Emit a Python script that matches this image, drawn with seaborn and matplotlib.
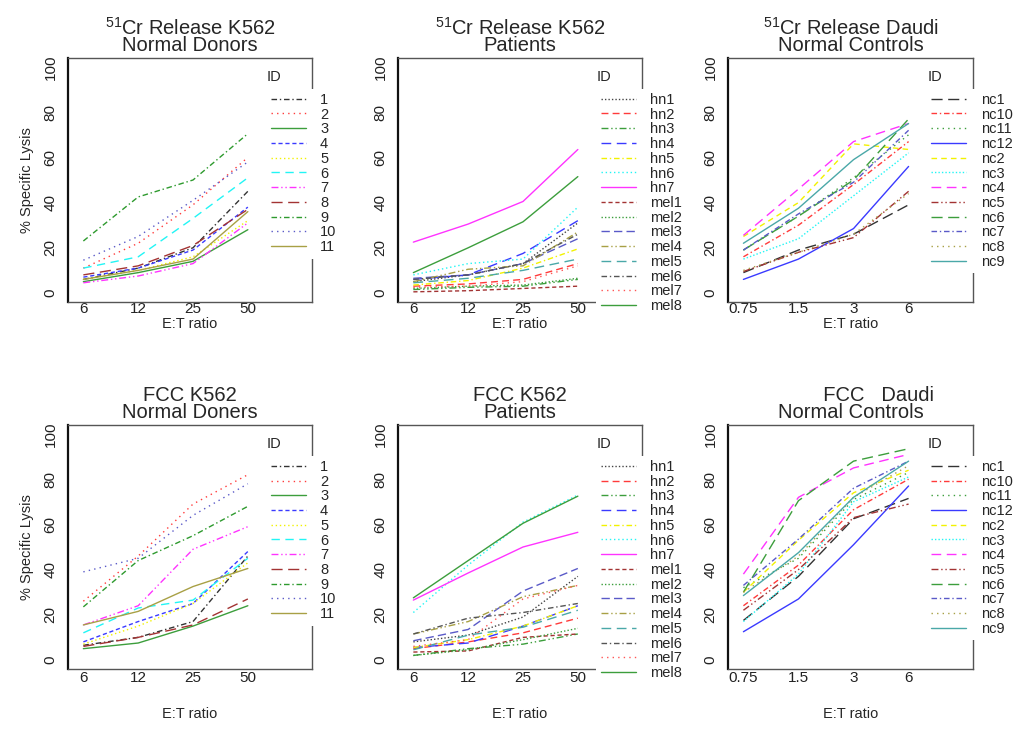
import matplotlib.pyplot as plt
import pandas as pd
import seaborn as sns

# E:T ratios (categorical x axis)
K562_RATIOS = ["6", "12", "25", "50"]
DAUDI_RATIOS = ["0.75", "1.5", "3", "6"]

# IDs in legend order
DONOR_IDS = ["1", "2", "3", "4", "5", "6", "7", "8", "9", "10", "11"]
PATIENT_IDS = ["hn1", "hn2", "hn3", "hn4", "hn5", "hn6", "hn7",
               "mel1", "mel2", "mel3", "mel4", "mel5", "mel6", "mel7", "mel8"]
CONTROL_IDS = ["nc1", "nc10", "nc11", "nc12", "nc2", "nc3",
               "nc4", "nc5", "nc6", "nc7", "nc8", "nc9"]

# % specific lysis, one row per ID (same order as the ID lists)
CR_K562_DONORS = [
    [6, 11, 20, 45], [11, 22, 39, 60], [5, 9, 14, 28], [7, 11, 19, 38],
    [6, 10, 16, 32], [11, 16, 33, 51], [4.5, 7.5, 13, 31], [8, 12, 21, 37],
    [23, 42.5, 50, 70.5], [14.5, 25, 41, 58], [6, 10, 15, 36],
]
CR_K562_PATIENTS = [
    [5, 8, 13, 31], [3, 4, 6, 13], [1.5, 2.5, 3, 6], [6, 8, 17.5, 32],
    [3.5, 5.5, 11, 19.5], [8, 13, 15, 38], [22.5, 30.5, 40.5, 63.5],
    [0.5, 1, 2, 3], [2, 3, 3.5, 6.5], [6.5, 8, 13, 24], [5, 10.5, 12, 27],
    [4.5, 6.5, 10, 15], [6, 8, 13, 26], [2.5, 3, 5, 12], [9, 20, 31.5, 51.5],
]
CR_DAUDI_CONTROLS = [
    [9, 19, 26, 39], [16, 30, 48, 67], [19, 34, 51, 70], [6, 15, 28.5, 56],
    [25, 40, 66, 63.5], [15, 24, 43, 62], [25.5, 46, 67, 75], [9.5, 18, 24.5, 45],
    [19, 34, 50, 77], [19, 35, 49, 72], [10, 18, 26, 44], [22, 37.5, 59, 75],
]
FCC_K562_DONORS = [
    [6.5, 10, 17, 46], [26, 46, 69, 82], [5, 7.5, 15, 24], [8, 17, 25, 48],
    [7, 15, 25, 43], [12, 23, 26.5, 45], [15.5, 24, 49, 59], [6, 10, 15.5, 27],
    [23.5, 44, 55, 68], [39, 45, 64, 78], [15.5, 21.5, 32.5, 40.5],
]
FCC_K562_PATIENTS = [
    [8, 11, 19, 37], [5, 8, 12, 18.5], [2, 5, 7, 11.5], [5.5, 7.5, 15, 24],
    [5.5, 9, 15, 24], [21, 42, 61, 73], [26.5, 38.5, 50, 56.5],
    [3.5, 4, 10, 11.5], [2, 4.5, 9, 14], [8.5, 13.5, 30.5, 40.5],
    [11.5, 17, 28, 33], [4.5, 11, 14.5, 22], [11.5, 18.5, 21, 25],
    [6, 9, 27, 33], [27.5, 44, 60.5, 72.5],
]
FCC_DAUDI_CONTROLS = [
    [17.5, 37, 62.5, 71.5], [24, 42, 66.5, 80], [32, 45, 71, 83], [12.5, 27, 51, 77],
    [30, 53, 74, 84], [17, 38, 70, 81], [38, 72, 85, 91], [22, 40, 63, 69],
    [30, 70.5, 88, 93.5], [33, 53.5, 76, 88], [30, 46, 72, 86], [28.5, 47.5, 72, 88],
]

# line styles
SOLID = ""
DOTTED = (1, 3)
DENSE_DOT = (1, 1.5)
DASHED = (4, 3)
SHORT_DASH = (3, 2)
LONGDASH = (7, 4)
DOTDASH = (4, 2, 1, 2)
DASHDOTDOT = (5, 2, 1, 2, 1, 2)

DONOR_COLORS = ["#333333", "#FF3B3B", "#3C9E3C", "#3A3AFF", "#F2F200", "#22F5F5",
                "#FF33FF", "#A33333", "#2E9A2E", "#5A5AC8", "#A8A045"]
DONOR_DASHES = [DOTDASH, DOTTED, SOLID, SHORT_DASH, (1, 2), (6, 4),
                DASHDOTDOT, (8, 4), DOTDASH, DOTTED, SOLID]

PATIENT_COLORS = ["#444444", "#FF3B3B", "#3C9E3C", "#3A3AFF", "#F2F200", "#22F5F5",
                  "#FF33FF", "#A33333", "#3C9E3C", "#5A5AC8", "#A8A045", "#4AA8A8",
                  "#555555", "#FF5555", "#3C9E3C"]
PATIENT_DASHES = [DENSE_DOT, (5, 3), DASHDOTDOT, LONGDASH, DOTDASH, (1, 2), SOLID,
                  SHORT_DASH, DENSE_DOT, (6, 3), DASHDOTDOT, LONGDASH, DOTDASH,
                  DOTTED, SOLID]

CONTROL_COLORS = ["#333333", "#FF3B3B", "#3C9E3C", "#3A3AFF", "#F2F200", "#22F5F5",
                  "#FF33FF", "#A33333", "#3C9E3C", "#5A5AC8", "#A8A045", "#4AA8A8"]
CONTROL_DASHES = [(8, 4), DOTDASH, DOTTED, SOLID, DASHED, DENSE_DOT,
                  LONGDASH, DASHDOTDOT, (8, 4), DOTDASH, DOTTED, SOLID]


def _frame(ids, values):
    rows = []
    for sid, vals in zip(ids, values):
        for pos, v in enumerate(vals):
            rows.append({"ID": sid, "pos": pos, "lysis": v})
    return pd.DataFrame(rows)


def _panel(ax, title, ids, values, colors, dashes, ratios, ylabel, top_row):
    df = _frame(ids, values)
    sns.lineplot(
        data=df, x="pos", y="lysis", hue="ID", style="ID",
        hue_order=ids, style_order=ids,
        palette=dict(zip(ids, colors)), dashes=dict(zip(ids, dashes)),
        linewidth=1.0, ax=ax, legend="full",
    )
    old = ax.get_legend()
    handles = old.legend_handles
    labels = [t.get_text() for t in old.get_texts()]
    old.remove()

    ax.set_xlim(-0.28, 4.17)
    ax.set_ylim(-4, 104)
    ax.set_xticks(range(len(ratios)))
    ax.set_xticklabels(ratios)
    ax.set_yticks([0, 20, 40, 60, 80, 100])
    ax.tick_params(axis="y", labelrotation=90, length=3.6, width=0.8, pad=4,
                   labelsize=11, colors="#222222")
    ax.tick_params(axis="x", length=0, pad=0 if top_row else 1.5, labelsize=11,
                   colors="#222222")
    for lab in ax.get_yticklabels():
        lab.set_va("center")

    for side in ["top", "right", "bottom"]:
        ax.spines[side].set_color("#555555")
        ax.spines[side].set_linewidth(1.0)
    ax.spines["left"].set_color("#111111")
    ax.spines["left"].set_linewidth(1.6)

    ax.set_title(title, fontsize=14.5, linespacing=0.85, pad=5)
    ax.set_xlabel("E:T ratio", fontsize=10.5, labelpad=1 if top_row else 16)
    ax.set_ylabel(ylabel, fontsize=10.5, labelpad=7)

    ax.text(0.815, 0.922, "ID", transform=ax.transAxes, fontsize=10.5,
            ha="left", va="center")
    leg = ax.legend(
        handles, labels, loc="upper left", bbox_to_anchor=(0.812, 0.875),
        borderaxespad=0, borderpad=0.3, frameon=True, fancybox=False,
        facecolor="white", edgecolor="none", framealpha=1.0,
        fontsize=10.5, handlelength=2.4, handletextpad=1.0, labelspacing=0.05,
    )
    leg.set_zorder(5)


def main():
    sns.set_theme(style="white")
    plt.rcParams["font.family"] = ["Liberation Sans", "DejaVu Sans"]
    plt.rcParams["mathtext.fontset"] = "custom"
    plt.rcParams["mathtext.rm"] = "Liberation Sans"
    plt.rcParams["mathtext.it"] = "Liberation Sans:italic"
    plt.rcParams["mathtext.bf"] = "Liberation Sans:bold"

    W, H = 1017, 746
    fig = plt.figure(figsize=(W / 100, H / 100), dpi=100)

    def axes_at(left, top, right, bottom):
        return fig.add_axes([left / W, 1 - bottom / H, (right - left) / W, (bottom - top) / H])

    panels = [
        (axes_at(68, 58, 312, 302), "$^{51}$Cr Release K562\nNormal Donors",
         DONOR_IDS, CR_K562_DONORS, DONOR_COLORS, DONOR_DASHES, K562_RATIOS,
         "% Specific Lysis", True),
        (axes_at(398, 58, 642, 302), "$^{51}$Cr Release K562\nPatients",
         PATIENT_IDS, CR_K562_PATIENTS, PATIENT_COLORS, PATIENT_DASHES, K562_RATIOS,
         "", True),
        (axes_at(728, 58, 973, 302), "$^{51}$Cr Release Daudi\nNormal Controls",
         CONTROL_IDS, CR_DAUDI_CONTROLS, CONTROL_COLORS, CONTROL_DASHES, DAUDI_RATIOS,
         "", True),
        (axes_at(68, 425, 312, 669), "FCC K562\nNormal Doners",
         DONOR_IDS, FCC_K562_DONORS, DONOR_COLORS, DONOR_DASHES, K562_RATIOS,
         "% Specific Lysis", False),
        (axes_at(398, 425, 642, 669), "FCC K562\nPatients",
         PATIENT_IDS, FCC_K562_PATIENTS, PATIENT_COLORS, PATIENT_DASHES, K562_RATIOS,
         "", False),
        (axes_at(728, 425, 973, 669), "          FCC   Daudi\nNormal Controls",
         CONTROL_IDS, FCC_DAUDI_CONTROLS, CONTROL_COLORS, CONTROL_DASHES, DAUDI_RATIOS,
         "", False),
    ]
    for args in panels:
        _panel(*args)

    fig.savefig("out.png", dpi=100, facecolor="white")
    plt.close(fig)


if __name__ == "__main__":
    main()
